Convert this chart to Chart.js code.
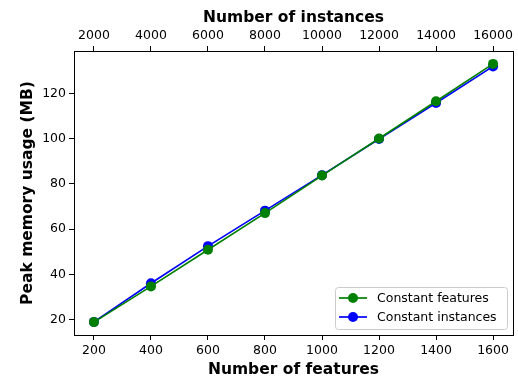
<!DOCTYPE html>
<html>
<head>
<meta charset="utf-8">
<script src="https://cdn.jsdelivr.net/npm/chart.js@4.4.1/dist/chart.umd.min.js"></script>
<style>
  html, body { margin: 0; padding: 0; background: #fff; }
  #wrap { width: 518px; height: 379px; }
</style>
</head>
<body>
<div id="wrap"><canvas id="chart" width="518" height="379"></canvas></div>
<script>
// values
const features = [200, 400, 600, 800, 1000, 1200, 1400, 1600];
const instances = [2000, 4000, 6000, 8000, 10000, 12000, 14000, 16000];
const constantFeatures = [18.9, 34.7, 50.9, 67.1, 83.7, 100.1, 116.6, 133.1];
const constantInstances = [19.0, 36.1, 52.5, 68.2, 83.9, 99.9, 115.8, 132.0];
const featureTicks = [200, 400, 600, 800, 1000, 1200, 1400, 1600];
const instanceTicks = [2000, 4000, 6000, 8000, 10000, 12000, 14000, 16000];
const memoryTicks = [20, 40, 60, 80, 100, 120];

const FONT = 'DejaVu Sans';

const frame = {
    id: 'frame',
    afterDraw(chart) {
        const { ctx, chartArea: a } = chart;
        ctx.save();
        ctx.strokeStyle = '#000';
        ctx.lineWidth = 1;
        ctx.strokeRect(Math.round(a.left) + 0.5, Math.round(a.top) + 0.5,
            Math.round(a.right - a.left), Math.round(a.bottom - a.top));
        ctx.restore();
    },
};

const boxLegend = {
    id: 'boxLegend',
    afterDraw(chart) {
        const { ctx } = chart;
        const x = 335, y = 287, w = 172, h = 42, r = 3;
        ctx.save();
        ctx.fillStyle = 'rgba(255,255,255,0.8)';
        ctx.strokeStyle = '#cccccc';
        ctx.lineWidth = 1;
        ctx.beginPath();
        ctx.roundRect(x + 0.5, y + 0.5, w, h, r);
        ctx.fill();
        ctx.stroke();
        ctx.font = '12.5px ' + FONT;
        ctx.textBaseline = 'middle';
        chart.data.datasets.forEach((ds, i) => {
            const cy = 298 + i * 19;
            ctx.strokeStyle = ds.borderColor;
            ctx.lineWidth = 1.7;
            ctx.beginPath();
            ctx.moveTo(339, cy);
            ctx.lineTo(367, cy);
            ctx.stroke();
            ctx.fillStyle = ds.backgroundColor;
            ctx.beginPath();
            ctx.arc(353, cy, 5, 0, Math.PI * 2);
            ctx.fill();
            ctx.fillStyle = '#000';
            ctx.fillText(ds.label, 377, cy + 0.5);
        });
        ctx.restore();
    },
};

const tickFont = { family: FONT, size: 12.5 };
const plainLabel = value => String(value);

new Chart(document.getElementById('chart'), {
    type: 'line',
    data: {
        datasets: [
            {
                label: 'Constant features',
                data: instances.map((x, i) => ({ x: x, y: constantFeatures[i] })),
                xAxisID: 'xTop',
                borderColor: '#008000',
                backgroundColor: '#008000',
                borderWidth: 1.7,
                pointRadius: 5,
                pointBorderWidth: 0,
            },
            {
                label: 'Constant instances',
                data: features.map((x, i) => ({ x: x, y: constantInstances[i] })),
                xAxisID: 'x',
                borderColor: '#0000ff',
                backgroundColor: '#0000ff',
                borderWidth: 1.7,
                pointRadius: 5,
                pointBorderWidth: 0,
            },
        ],
    },
    options: {
        responsive: false,
        animation: false,
        layout: { padding: { left: 0, right: 5, top: 0, bottom: 0 } },
        plugins: { legend: { display: false }, tooltip: { enabled: false } },
        scales: {
            x: {
                type: 'linear',
                position: 'bottom',
                min: 130,
                max: 1670,
                afterBuildTicks: axis => { axis.ticks = featureTicks.map(v => ({ value: v })); },
                afterFit: axis => { axis.height = 44; },
                grid: { drawOnChartArea: false, tickLength: 5, tickColor: '#000', tickWidth: 1 },
                border: { display: false },
                ticks: { color: '#000', font: tickFont, padding: 3, maxRotation: 0, callback: plainLabel },
                title: {
                    display: true,
                    text: 'Number of features',
                    color: '#000',
                    font: { family: FONT, size: 15.5, weight: 'bold' },
                    padding: { top: 0, bottom: 0 },
                },
            },
            xTop: {
                type: 'linear',
                position: 'top',
                min: 1300,
                max: 16700,
                afterBuildTicks: axis => { axis.ticks = instanceTicks.map(v => ({ value: v })); },
                afterFit: axis => { axis.height = 51; },
                grid: { drawOnChartArea: false, tickLength: 5, tickColor: '#000', tickWidth: 1 },
                border: { display: false },
                ticks: { color: '#000', font: tickFont, padding: 3, maxRotation: 0, callback: plainLabel },
                title: {
                    display: true,
                    text: 'Number of instances',
                    color: '#000',
                    font: { family: FONT, size: 15.5, weight: 'bold' },
                    padding: { top: 9, bottom: 0 },
                },
            },
            y: {
                type: 'linear',
                min: 13.2,
                max: 138.8,
                afterBuildTicks: axis => { axis.ticks = memoryTicks.map(v => ({ value: v })); },
                afterFit: axis => { axis.width = 74; },
                grid: { drawOnChartArea: false, tickLength: 5, tickColor: '#000', tickWidth: 1 },
                border: { display: false },
                ticks: { color: '#000', font: tickFont, padding: 3, callback: plainLabel },
                title: {
                    display: true,
                    text: 'Peak memory usage (MB)',
                    color: '#000',
                    font: { family: FONT, size: 15.5, weight: 'bold' },
                    padding: { top: 19, bottom: 0 },
                },
            },
        },
    },
    plugins: [frame, boxLegend],
});
</script>
</body>
</html>
